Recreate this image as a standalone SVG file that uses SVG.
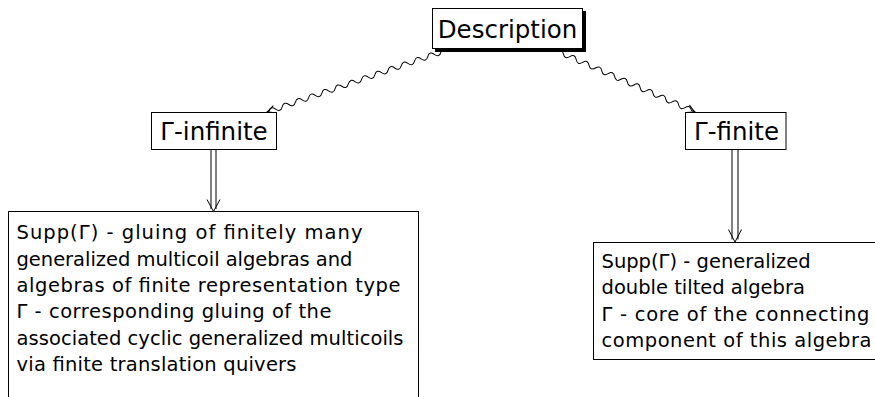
<svg xmlns="http://www.w3.org/2000/svg" width="875" height="397" viewBox="0 0 875 397">
<defs>
<style>
.box{fill:#fff;stroke:#000;stroke-width:1}
.t{font-family:"DejaVu Sans",sans-serif;fill:#000}
.big{font-size:24.5px;text-anchor:middle}
.sm{font-size:19.5px}
.wave{fill:none;stroke:#000;stroke-width:1}
.dbl{fill:none;stroke:#000;stroke-width:1}
</style>
<marker id="ah" markerUnits="userSpaceOnUse" viewBox="-10 -6 12 12" refX="0" refY="0" markerWidth="12" markerHeight="12" orient="auto">
<path d="M-8,-4 Q-3,-1 0,0 Q-3,1 -8,4" fill="none" stroke="#000" stroke-width="1"/>
</marker>
</defs>
<rect width="875" height="397" fill="#fff"/>
<g id="connectors">
<path class="wave" marker-end="url(#ah)" transform="translate(441,52) rotate(160.97)" d="M0,0 q3.5,-5 7,0 t7,0 t7,0 t7,0 t7,0 t7,0 t7,0 t7,0 t7,0 t7,0 t7,0 t7,0 t7,0 t7,0 t7,0 t7,0 t7,0 t7,0 t7,0 t7,0 t7,0 t7,0 t7,0 t7,0 t7,0 t7,0 l2,0"/>
<path class="wave" marker-end="url(#ah)" transform="translate(557,51) rotate(23.84)" d="M0,0 q3.5,-5 7,0 t7,0 t7,0 t7,0 t7,0 t7,0 t7,0 t7,0 t7,0 t7,0 t7,0 t7,0 t7,0 t7,0 t7,0 t7,0 t7,0 t7,0 t7,0 t7,0 t7,0 l4,0"/>
<g id="arrow-left" class="dbl">
<path d="M211,149.5 V209 M216,149.5 V209"/>
<path d="M207,199.5 L213.5,211.5 L220,199.5"/>
</g>
<g id="arrow-right" class="dbl">
<path d="M732,149.5 V239.5 M738,149.5 V239.5"/>
<path d="M728.5,229.5 L735,242 L741.5,229.5"/>
</g>
</g>
<g id="description">
<rect x="435.5" y="11.5" width="150" height="40" fill="#000" stroke="#000"/>
<rect class="box" x="432.5" y="8.5" width="150" height="40"/>
<text class="t big" x="507.5" y="37.5">Description</text>
</g>
<g id="gamma-infinite">
<rect class="box" x="151.5" y="112.5" width="125" height="37"/>
<text class="t big" x="214" y="140">Γ-infinite</text>
</g>
<g id="gamma-finite">
<rect class="box" x="685.5" y="112.5" width="100.5" height="37"/>
<text class="t big" x="736.5" y="140">Γ-finite</text>
</g>
<g id="infinite-desc">
<rect class="box" x="8.5" y="211.5" width="410" height="200"/>
<text class="t sm" x="16.5" y="239.3" textLength="346">Supp(Γ) - gluing of finitely many</text>
<text class="t sm" x="16.5" y="265.6" textLength="336">generalized multicoil algebras and</text>
<text class="t sm" x="16.5" y="291.9" textLength="384">algebras of finite representation type</text>
<text class="t sm" x="16.5" y="318.2" textLength="315">Γ - corresponding gluing of the</text>
<text class="t sm" x="16.5" y="344.5" textLength="387">associated cyclic generalized multicoils</text>
<text class="t sm" x="16.5" y="370.8" textLength="280">via finite translation quivers</text>
</g>
<g id="finite-desc">
<rect class="box" x="593.5" y="242.5" width="300" height="117"/>
<text class="t sm" x="601.5" y="268">Supp(Γ) - generalized</text>
<text class="t sm" x="601.5" y="294.3">double tilted algebra</text>
<text class="t sm" x="601.5" y="320.6" textLength="268">Γ - core of the connecting</text>
<text class="t sm" x="601.5" y="346.9" textLength="270">component of this algebra</text>
</g>
</svg>
